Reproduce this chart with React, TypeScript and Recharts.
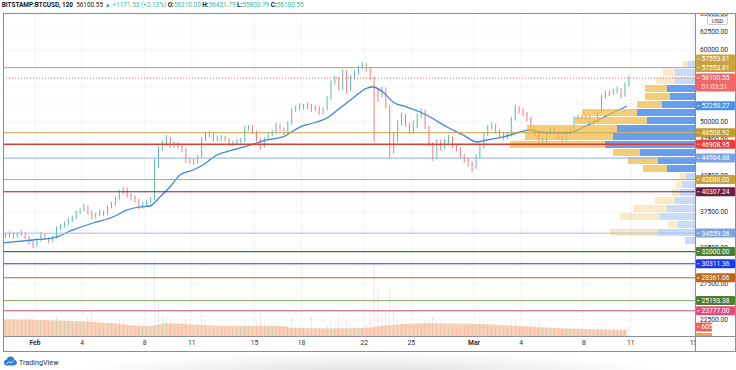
import React from "react";
import { Area, Bar, BarChart, CartesianGrid, Cell, ComposedChart, Line, ReferenceLine, XAxis, YAxis } from "recharts";

const FONT = "Roboto, 'Noto Sans', sans-serif";
const UP = "#3aa99a";
const DOWN = "#e8605e";
const TEAL = "#3bb3a0";

// 6h candles from 30 Jan 00:00; time is days since 1 Feb 00:00
const firstOpen = 34300;
const closes = [
  34200, 34500, 34100, 34400, 34580, 34000, 33300, 32900, 33600, 34300, 33900, 33500,
  33900, 35300, 35600, 35900, 36400, 36700, 37400, 37800, 38200, 37500, 36800, 37100,
  37500, 37200, 38200, 38600, 39450, 40300, 40800, 39900, 39500, 39100, 38300, 38600,
  38900, 39300, 44200, 46300, 47000, 47800, 46800, 46900, 46700, 46200, 44700, 44600,
  44500, 45100, 47600, 48300, 48400, 47600, 47700, 47900, 47600, 46900, 47100, 47300,
  47400, 49100, 49300, 48600, 47600, 46600, 47700, 48200, 48600, 49600, 49000, 48500,
  49800, 51600, 51900, 52300, 52100, 52400, 51700, 52000, 51300, 51700, 53300, 55500,
  56000, 54700, 57000, 54500, 56200, 56900, 57500, 58000, 57300, 56100, 54400, 53700,
  54600, 52200, 48000, 47500, 49800, 50900, 49600, 48700, 49300, 50800, 51500, 49300,
  46900, 45000, 47200, 46400, 47300, 47800, 46700, 46300, 45300, 44700, 44300, 43700,
  45200, 46500, 48200, 49200, 49600, 48700, 48300, 47900, 48200, 50400, 51900, 51600,
  51200, 50500, 49100, 48400, 47000, 47400, 48300, 48800, 48600, 47900, 47600, 48500,
  49200, 50500, 50700, 50500, 50700, 50200, 50000, 51300, 53500, 54100, 54000, 54300,
  54500, 53700, 55200, 56100.55,
];
const highs = [
  34600, 34800, 34700, 34700, 34900, 34700, 34200, 33500, 33900, 34700, 34500, 34000,
  34200, 35500, 35900, 36200, 36700, 37000, 37700, 38000, 38600, 38400, 37700, 37400,
  37800, 37700, 38400, 38900, 39700, 40600, 41000, 40900, 40100, 39800, 39300, 38900,
  39200, 39600, 44900, 46600, 47400, 48200, 48000, 47300, 47200, 46900, 46400, 45000,
  44900, 45400, 47900, 48600, 48800, 48600, 48100, 48200, 48100, 47800, 47400, 47600,
  47800, 49400, 49600, 49500, 48800, 47800, 47900, 48500, 48900, 49900, 49800, 49200,
  50100, 51900, 52300, 52600, 52500, 52700, 52500, 52300, 52200, 52000, 53600, 55800,
  56400, 56200, 57300, 57200, 56500, 57200, 57800, 58350, 58200, 57500, 56300, 54700,
  54900, 54800, 52400, 48600, 50300, 51300, 51100, 49900, 50200, 51200, 51900, 51700,
  49500, 47200, 47600, 47500, 47700, 48200, 48000, 47000, 46500, 45600, 45000, 44600,
  45500, 46900, 48500, 49600, 50000, 49800, 49000, 48600, 48600, 50700, 52400, 52200,
  51900, 51400, 50700, 49300, 48600, 47800, 48600, 49200, 49100, 48800, 48100, 48800,
  49500, 50800, 51000, 50900, 51000, 50900, 50400, 51600, 53800, 54400, 54400, 54600,
  54900, 54700, 55500, 56431.79,
];
const lows = [
  33900, 34000, 33800, 33900, 34200, 33700, 33000, 32500, 32700, 33400, 33600, 33200,
  33300, 33800, 35000, 35300, 35700, 36100, 36500, 37200, 37600, 37200, 36500, 36600,
  36900, 36900, 37100, 38000, 38400, 39200, 40000, 39500, 39100, 38800, 37900, 38000,
  38300, 38700, 39100, 43600, 46000, 46700, 46400, 46400, 46300, 45800, 44300, 44200,
  44100, 44300, 45000, 47400, 47900, 47300, 47300, 47400, 47300, 46600, 46700, 46900,
  47000, 47300, 48800, 48300, 47300, 46200, 46400, 47500, 48000, 48400, 48700, 48200,
  48300, 49600, 51400, 51600, 51700, 51800, 51400, 51500, 51000, 51100, 51600, 53100,
  55200, 54400, 54500, 53900, 54300, 55900, 56600, 57300, 57000, 55800, 47200, 52800,
  53400, 51900, 45000, 45600, 47200, 49500, 49300, 48300, 48400, 49100, 50500, 49000,
  46600, 44600, 44800, 46000, 46200, 47000, 46400, 45900, 45000, 44400, 43800, 43100,
  43500, 45000, 46300, 48000, 48900, 48400, 47900, 47500, 47600, 48000, 50200, 51200,
  50800, 50100, 48700, 48000, 46600, 46700, 47200, 48100, 48300, 47500, 47200, 47400,
  48300, 49000, 50200, 50200, 50300, 49900, 49600, 49900, 51200, 53200, 53600, 53800,
  54000, 53300, 53500, 54900,
];
const volumes = [
  1050, 980, 1150, 1020, 990, 1200, 1300, 1400, 1100, 950, 1000, 900,
  980, 1350, 1000, 900, 880, 850, 1000, 920, 1000, 1300, 1700, 950,
  800, 760, 880, 820, 900, 1050, 980, 820, 700, 650, 880, 700,
  620, 680, 5200, 2400, 1300, 1150, 1000, 850, 760, 850, 1150, 800,
  700, 820, 1500, 950, 760, 700, 660, 620, 600, 720, 580, 560,
  600, 950, 780, 700, 1000, 1600, 900, 760, 680, 760, 700, 640,
  700, 1400, 800, 700, 620, 600, 1300, 560, 560, 540, 820, 1000,
  900, 1300, 850, 1100, 800, 700, 660, 760, 900, 1200, 4900, 3100,
  1400, 1800, 3200, 1700, 1100, 950, 850, 760, 720, 850, 760, 1050,
  1200, 1300, 1000, 780, 700, 620, 660, 620, 600, 700, 680, 760,
  820, 1150, 950, 760, 640, 600, 620, 600, 580, 850, 1000, 700,
  640, 680, 850, 760, 850, 640, 600, 560, 520, 500, 480, 520,
  460, 580, 500, 460, 460, 480, 520, 560, 680, 560, 500, 480,
  500, 540, 560, 605,
];

const maDays = [-2.04, -0.13, 1.15, 2.42, 3.7, 4.97, 5.87, 6.7, 7.33, 7.97, 8.6, 9.25, 10.08, 10.71, 11.6, 12.63, 13.71, 14.8, 15.82, 16.9, 17.73, 18.62, 19.45, 20.28, 21.17, 21.56, 22.19, 22.83, 23.72, 24.55, 25.19, 26.28, 27.3, 28.19, 28.83, 29.85, 30.93, 31.57, 32.21, 32.84, 33.93, 35.4, 36.67, 37.75];
const maValues = [33200, 33610, 33890, 35000, 35970, 36800, 37780, 38200, 38330, 39580, 40970, 42640, 43330, 44030, 45420, 46110, 46800, 47500, 47920, 49300, 49860, 50550, 51940, 53330, 54720, 54860, 54170, 52780, 52080, 51390, 50690, 49300, 48200, 47220, 47500, 47920, 48610, 48890, 48610, 48500, 48470, 49700, 51100, 52200];

const volMaDays = [-2.04, 0.32, 2.04, 3.5, 5.0, 5.9, 7.3, 8.4, 10.5, 12.6, 15.8, 16.3, 19.0, 21.2, 21.7, 25.0, 29.2, 30.9, 33.5, 35.6, 37.75];
const volMaValues = [1120, 1070, 1030, 960, 850, 740, 670, 850, 740, 670, 670, 560, 520, 560, 620, 850, 780, 670, 520, 450, 400];

const dayTicks = [0, 3, 7, 10, 14, 17, 21, 24, 28, 31, 35, 38, 42];
const dayLabels = ["Feb", "4", "8", "11", "15", "18", "22", "25", "Mar", "4", "8", "11", "15"];
const priceTicks = [22500, 25000, 27500, 30000, 32500, 35000, 37500, 40000, 42500, 45000, 47500, 50000, 52500, 55000, 57500, 60000, 62500, 65000];
// tick labels that sit fully behind a level tag on the price scale
const coveredTicks = [25000, 30000, 35000, 40000, 45000, 52500, 55000, 57500];

// visible range volume profile (rows by price)
const profilePrices = [57917, 56805, 55694, 54583, 53472, 52360, 51249, 50138, 49027, 47916, 46804, 45693, 44582, 43471, 42360, 41249, 40138, 39026, 37915, 36804, 35693, 34582, 33471];
const profileUp = [7, 20, 20, 28, 25, 33, 58, 48, 78, 82, 90, 55, 37, 28, 9, 13, 15, 20, 28, 35, 17, 38, 10];
const profileDown = [5, 12, 19, 22, 25, 25, 55, 72, 90, 88, 95, 27, 30, 24, 6, 6, 8, 20, 34, 40, 10, 47, 0];
const profileValueArea = [0, 0, 0, 1, 1, 1, 1, 1, 1, 1, 1, 1, 1, 1, 0, 0, 0, 0, 0, 0, 0, 0, 0];

const levelPrices = [57553.81, 48508.92, 46908.95, 44984.88, 42000, 40307.24, 34559.36, 32000, 30311.36, 28361.06, 25193.38, 23777];
const levelLineColors = ["#cba53f", "#c6a040", "#e53935", "#93b5ea", "#cfa53e", "#7b1f44", "#9dbbec", "#3f7330", "#1f3ae6", "#b8651f", "#8daa6c", "#e04a80"];
const levelTagColors = ["#c9a33e", "#c09a2e", "#ee3b3b", "#7ba3e3", "#c9a13a", "#6d1d3f", "#7fa5dd", "#4b7d34", "#1a3af0", "#bb6820", "#4d7e31", "#e14b80"];
const levelWidths = [1, 1, 1.6, 1, 1, 1, 1, 1.2, 1.2, 1, 1, 1];

const lastPrice = 56100.55;
const countdown = "01:03:31";
const pocPrice = 52250.27;

const X_DOMAIN: [number, number] = [-2.04, 42.09];
const P_DOMAIN: [number, number] = [20274, 65139];

const candles = closes.map((c, i) => ({
  t: -2 + i * 0.25 + 0.125,
  o: i === 0 ? firstOpen : closes[i - 1],
  h: highs[i],
  l: lows[i],
  c,
  v: volumes[i],
}));
const maData = maDays.map((t, i) => ({ t, ma: maValues[i] }));
const volMaData = volMaDays.map((t, i) => ({ t, vma: volMaValues[i] }));
const profile = profilePrices.map((price, i) => ({ price, up: profileUp[i], down: profileDown[i], va: profileValueArea[i] }));

function Candle(props: any) {
  const { x, y, width, height, payload } = props;
  if (x == null || y == null || !payload) return null;
  const top = Math.min(y, y + height);
  const span = Math.abs(height);
  const { o, h, l, c } = payload;
  const py = (v: number) => top + (span * (h - v)) / (h - l);
  const color = c >= o ? UP : DOWN;
  const cx = x + width / 2;
  const bTop = py(Math.max(o, c));
  const bH = Math.max(0.8, py(Math.min(o, c)) - bTop);
  return (
    <g>
      <line x1={cx} x2={cx} y1={top} y2={top + span} stroke={color} strokeWidth={0.8} />
      <rect x={x} y={bTop} width={width} height={bH} fill={color} />
    </g>
  );
}

function DayTick({ x, y, payload }: any) {
  const label = dayLabels[dayTicks.indexOf(payload.value)];
  const month = label === "Feb" || label === "Mar";
  return (
    <text x={x} y={y} dy={9.3} textAnchor="middle" fontSize={6.7} fontWeight={month ? 700 : 400} fill="#2a2e39" fontFamily={FONT}>
      {label}
    </text>
  );
}

function PriceTick({ x, y, payload }: any) {
  if (coveredTicks.includes(payload.value)) return <g />;
  return (
    <text x={x + 5} y={y} dy={2.4} fontSize={6.7} fill="#2a2e39" fontFamily={FONT} textAnchor="start">
      {payload.value.toFixed(2)}
    </text>
  );
}

function Tag(props: any) {
  const { viewBox, text, color, shift = 0, sub, w = 39 } = props;
  if (!viewBox) return null;
  const x = viewBox.x + viewBox.width + 1;
  const cy = viewBox.y + shift;
  const h = sub ? 18 : 9;
  return (
    <g>
      <rect x={x} y={cy - 4.6} width={w} height={h} rx={1} fill={color} />
      <line x1={x + 1} x2={x + 3.5} y1={cy} y2={cy} stroke="#fff" strokeWidth={0.8} />
      <text x={x + 5.5} y={cy} dy={2.4} fontSize={6.7} fill="#fff" fontFamily={FONT}>
        {text}
      </text>
      {sub && (
        <text x={x + 5.5} y={cy + 8.6} dy={2.4} fontSize={6.7} fill="#fde0e0" fontFamily={FONT}>
          {sub}
        </text>
      )}
    </g>
  );
}

const line = (s: React.CSSProperties): React.CSSProperties => ({ position: "absolute", background: "#8c9099", ...s });

export default function App() {
  return (
    <div style={{ position: "absolute", left: 0, top: 0, width: 736, height: 370, background: "#fff", overflow: "hidden", fontFamily: FONT }}>
      <div style={{ position: "absolute", left: 0, top: 0 }}>
        <ComposedChart width={736} height={370} data={candles} margin={{ top: 13, right: 1, left: 3, bottom: 19 }}>
          <CartesianGrid stroke="#eef1f6" strokeWidth={0.8} />
          <XAxis
            type="number"
            dataKey="t"
            domain={X_DOMAIN}
            allowDataOverflow
            ticks={dayTicks}
            interval={0}
            height={15}
            axisLine={false}
            tickLine={false}
            tickSize={0}
            tickMargin={0}
            tick={<DayTick />}
          />
          <XAxis xAxisId="vol" type="number" dataKey="t" domain={X_DOMAIN} allowDataOverflow hide />
          <YAxis
            orientation="right"
            type="number"
            domain={P_DOMAIN}
            allowDataOverflow
            ticks={priceTicks}
            interval={0}
            width={40}
            axisLine={false}
            tickLine={false}
            tickSize={0}
            tickMargin={0}
            tick={<PriceTick />}
          />
          <YAxis yAxisId="vol" type="number" domain={[0, 21700]} allowDataOverflow hide />
          <Area
            xAxisId="vol"
            yAxisId="vol"
            data={volMaData}
            dataKey="vma"
            type="monotone"
            stroke="none"
            fill="#f6bf99"
            fillOpacity={0.7}
            isAnimationActive={false}
          />
          <Bar xAxisId="vol" yAxisId="vol" dataKey="v" barSize={2} isAnimationActive={false}>
            {candles.map((d, i) => (
              <Cell key={i} fill={d.c >= d.o ? "rgba(38,166,154,0.45)" : "rgba(239,83,80,0.45)"} />
            ))}
          </Bar>
          <Bar dataKey={(d: any) => [d.l, d.h]} barSize={3} shape={<Candle />} isAnimationActive={false} />
          <Line data={maData} dataKey="ma" type="monotone" stroke="#3f86e0" strokeWidth={1.3} dot={false} isAnimationActive={false} />
          <ReferenceLine
            xAxisId="vol"
            yAxisId="vol"
            y={605}
            strokeOpacity={0}
            label={<Tag text="605" color="#ef5f5f" w={16} />}
          />
        </ComposedChart>
      </div>

      <div style={{ position: "absolute", left: 0, top: 0 }}>
        <BarChart width={736} height={370} data={profile} layout="vertical" margin={{ top: 13, right: 41, left: 3, bottom: 34 }}>
          <XAxis type="number" domain={[0, 692]} allowDataOverflow reversed hide />
          <YAxis type="number" dataKey="price" domain={P_DOMAIN} allowDataOverflow reversed hide />
          <Bar dataKey="up" stackId="p" barSize={7} isAnimationActive={false}>
            {profile.map((r, i) => (
              <Cell key={i} fill={r.va ? "rgba(52,126,232,0.75)" : "rgba(52,126,232,0.27)"} />
            ))}
          </Bar>
          <Bar dataKey="down" stackId="p" barSize={7} isAnimationActive={false}>
            {profile.map((r, i) => (
              <Cell key={i} fill={r.va ? "rgba(240,186,64,0.72)" : "rgba(240,186,64,0.3)"} />
            ))}
          </Bar>
          <ReferenceLine
            y={lastPrice}
            stroke="#ef5350"
            strokeWidth={0.9}
            strokeDasharray="1 2"
            label={<Tag text={lastPrice.toFixed(2)} sub={countdown} color="#f06767" />}
          />
          <ReferenceLine y={pocPrice} strokeOpacity={0} label={<Tag text={pocPrice.toFixed(2)} color="#4a90e6" />} />
          {levelPrices.map((p, i) => (
            <ReferenceLine
              key={p}
              y={p}
              stroke={levelLineColors[i]}
              strokeWidth={levelWidths[i]}
              label={<Tag text={p.toFixed(2)} color={levelTagColors[i]} />}
            />
          ))}
          <ReferenceLine
            y={levelPrices[0]}
            strokeOpacity={0}
            label={<Tag text={levelPrices[0].toFixed(2)} color={levelTagColors[0]} shift={-8.6} />}
          />
        </BarChart>
      </div>

      {/* header */}
      <div style={{ position: "absolute", left: 1.7, top: 1.2, fontSize: 6.4, lineHeight: "9px", whiteSpace: "nowrap", color: "#131722" }}>
        <b>BITSTAMP:BTCUSD, 120</b>&nbsp; 56100.55 <span style={{ color: TEAL }}>▲ +1171.53 (+2.13%)</span> <b>O:</b>
        <span style={{ color: TEAL }}>56310.00</span> <b>H:</b>
        <span style={{ color: TEAL }}>56431.79</span> <b>L:</b>
        <span style={{ color: TEAL }}>55803.79</span> <b>C:</b>
        <span style={{ color: TEAL }}>56100.55</span>
      </div>

      {/* frame and pane separators */}
      <div style={{ position: "absolute", left: 696, top: 0, width: 40, height: 12.5, background: "#fff" }} />
      <div style={{ position: "absolute", left: 696, top: 337, width: 39, height: 13, background: "#fff" }} />
      <div style={line({ left: 2.5, top: 12.5, width: 733, height: 1 })} />
      <div style={line({ left: 2.5, top: 350.5, width: 733, height: 1 })} />
      <div style={line({ left: 2.5, top: 12.5, width: 1.2, height: 339 })} />
      <div style={line({ left: 735, top: 12.5, width: 1, height: 339 })} />
      <div style={line({ left: 695, top: 13, width: 1, height: 338 })} />
      <div style={line({ left: 3, top: 335.5, width: 732, height: 1 })} />
      <div style={{ position: "absolute", left: 696, top: 333, width: 16, height: 2.5, background: "#f0a04b" }} />

      {/* currency badge */}
      <div
        style={{
          position: "absolute",
          left: 707,
          top: 16,
          width: 21,
          height: 9,
          border: "0.8px solid #c9ccd3",
          borderRadius: 2,
          background: "#fff",
          fontSize: 6.2,
          lineHeight: "9px",
          textAlign: "center",
          color: "#2a2e39",
          boxSizing: "border-box",
        }}
      >
        USD
      </div>

      {/* footer */}
      <div
        style={{
          position: "absolute",
          left: 60,
          top: 352,
          width: 620,
          height: 22,
          background: "radial-gradient(ellipse at 50% 100%, rgba(0,0,0,0.13), rgba(0,0,0,0) 70%)",
        }}
      />
      <svg style={{ position: "absolute", left: 3, top: 356 }} width={14} height={10} viewBox="0 0 14 10">
        <circle cx={4} cy={6.5} r={3} fill="#2f7fd8" />
        <circle cx={7.5} cy={4.2} r={3.8} fill="#2f7fd8" />
        <circle cx={11} cy={6.5} r={2.8} fill="#2f7fd8" />
        <rect x={4} y={6.5} width={7} height={3} fill="#2f7fd8" />
        <path d="M3.5 8 L6 5.5 L8 7 L10.5 4.5" stroke="#fff" strokeWidth={0.9} fill="none" />
      </svg>
      <div style={{ position: "absolute", left: 19, top: 357.5, fontSize: 7.2, lineHeight: "9px", color: "#2a2e39" }}>TradingView</div>
    </div>
  );
}
